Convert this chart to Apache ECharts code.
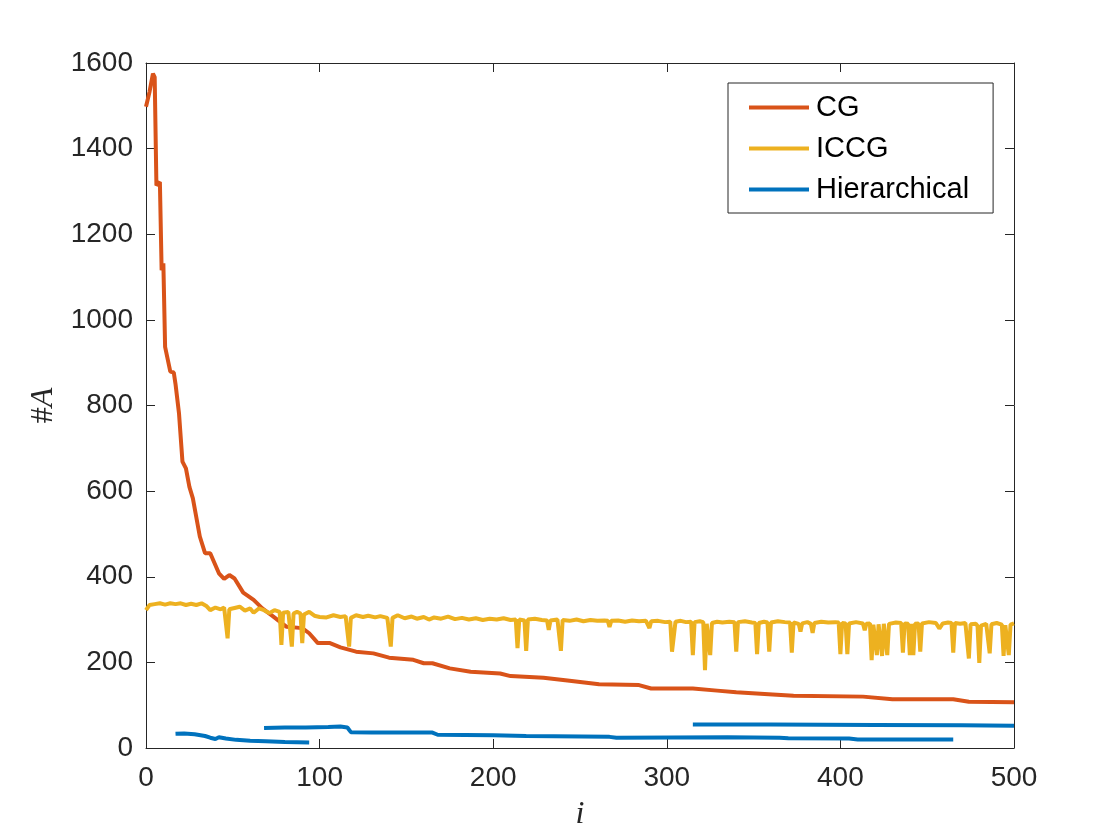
<!DOCTYPE html>
<html>
<head>
<meta charset="utf-8">
<script src="https://cdn.jsdelivr.net/npm/echarts@6/dist/echarts.min.js"></script>
<style>
html, body { margin: 0; padding: 0; background: #fff; }
#chart { width: 1120px; height: 840px; }
</style>
</head>
<body>
<div id="chart"></div>
<script>
// CG
var cgX = [0, 2, 4, 5, 6, 8, 9, 10, 11, 14, 16, 17, 19, 21, 23, 25, 27, 31, 34, 37, 40, 42, 45, 48, 51, 56, 62, 67, 73, 81, 90, 94, 99, 106, 112, 121, 131, 140, 154, 160, 165, 175, 187, 204, 210, 229, 244, 261, 284, 291, 315, 329, 340, 361, 373, 413, 430, 465, 474, 500];
var cgY = [1498, 1532, 1575, 1567, 1314, 1322, 1116, 1132, 937, 879, 877, 850, 782, 669, 653, 610, 583, 494, 455, 455, 427, 408, 395, 404, 396, 363, 346, 326, 308, 283, 280, 268, 245, 245, 235, 225, 221, 211, 206, 198, 198, 186, 178, 174, 168, 164, 157, 149, 147, 139, 139, 134, 130, 125, 122, 120, 114, 114, 108, 107];

// ICCG
var iccgX = [0, 2, 5, 8, 11, 14, 17, 20, 23, 26, 29, 32, 35, 37, 40, 43, 45, 46, 47, 48, 51, 54, 57, 60, 62, 65, 68, 71, 74, 77, 78, 79, 82, 83, 84, 85, 87, 89, 90, 91, 94, 97,
  100, 104, 108, 112, 115, 116, 117, 118, 121, 125, 128, 132, 135, 139, 140, 141, 142, 145, 149, 153, 156, 160, 163, 166, 170, 174, 178, 182, 186, 190, 194, 198,
  202, 206, 210, 213, 214, 215, 218, 219, 220, 224, 228, 231, 232, 233, 237, 238, 239, 240, 244, 248, 252, 256, 260, 264, 266, 267, 268, 272, 276, 280, 284, 288, 289, 290, 291, 295, 299,
  302, 303, 305, 308, 311, 314, 315, 316, 319, 321, 322, 323, 324, 325, 326, 329, 332, 336, 339, 340, 341, 345, 349, 351, 352, 353, 356, 358, 359, 360, 364, 368, 371, 372, 373, 376, 377, 378, 381, 383, 384, 385, 389, 393, 397, 399,
  400, 401, 403, 404, 405, 409, 413, 414, 415, 417, 418, 419, 420, 421, 422, 423, 424, 425, 426, 427, 428, 432, 435, 436, 437, 439, 440, 441, 442, 443, 445, 446, 447, 451, 455, 457, 459, 462, 464, 465, 466, 469, 472, 473, 474, 475, 478, 479, 480, 481, 484, 486, 487, 490, 493, 494, 495, 496, 497, 498, 500];
var iccgY = [322, 334, 336, 338, 335, 338, 336, 338, 334, 337, 334, 338, 331, 322, 328, 324, 328, 326, 256, 324, 327, 330, 321, 326, 316, 326, 322, 315, 322, 318, 241, 316, 318, 314, 237, 314, 318, 314, 245, 312, 318, 309,
  306, 305, 310, 306, 308, 304, 237, 304, 310, 306, 309, 305, 308, 304, 306, 237, 304, 310, 303, 307, 302, 306, 300, 305, 302, 307, 301, 304, 300, 303, 299, 302,
  300, 303, 299, 300, 233, 300, 298, 227, 300, 302, 299, 298, 276, 298, 300, 299, 227, 299, 297, 300, 296, 299, 297, 298, 297, 283, 297, 298, 295, 298, 296, 297, 296, 280, 296, 297, 294,
  295, 225, 295, 297, 294, 295, 217, 294, 296, 294, 182, 290, 292, 217, 292, 295, 293, 295, 294, 225, 294, 296, 293, 292, 219, 292, 295, 293, 225, 293, 296, 294, 293, 223, 293, 290, 272, 291, 294, 290, 269, 292, 295, 293, 294, 293,
  219, 292, 291, 219, 291, 294, 291, 275, 290, 291, 205, 288, 290, 217, 289, 288, 215, 290, 289, 217, 290, 293, 292, 223, 291, 290, 217, 290, 217, 290, 291, 225, 291, 294, 292, 279, 291, 293, 292, 223, 292, 290, 292, 288, 209, 289, 290, 285, 199, 286, 290, 221, 289, 292, 288, 215, 287, 290, 217, 288, 291];

// Hierarchical (three separate runs)
var hier1X = [17, 22, 28, 34, 37, 40, 42, 46, 52, 60, 69, 80, 94];
var hier1Y = [33, 34, 32, 28, 24, 21, 25, 22, 19, 17, 16, 14, 13];
var hier2X = [68, 80, 92, 105, 112, 116, 118, 130, 150, 165, 168, 200, 219, 267, 271, 335, 365, 370, 405, 410, 465];
var hier2Y = [47, 48, 48, 49, 50, 48, 37, 36, 36, 36, 31, 30, 28, 26, 24, 25, 24, 23, 22, 20, 20];
var hier3X = [315, 360, 420, 470, 500];
var hier3Y = [55, 55, 54, 53, 52];

var names = ['CG', 'ICCG', 'Hierarchical'];
var colors = ['#D95319', '#EDB120', '#0072BD'];

function zip(xs, ys) {
  var out = [];
  for (var k = 0; k < xs.length; k++) out.push([xs[k], ys[k]]);
  return out;
}

function lineSeries(name, color, xs, ys) {
  return {
    name: name,
    type: 'line',
    data: zip(xs, ys),
    showSymbol: false,
    symbol: 'none',
    lineStyle: { color: color, width: 4 },
    itemStyle: { color: color },
    emphasis: { disabled: true }
  };
}

var axisCol = '#262626';
var tickFont = { color: axisCol, fontSize: 28, fontFamily: 'Liberation Sans, Arial, sans-serif', formatter: function (v) { return String(v); } };

function boxAxis(extra) {
  return Object.assign({
    axisLine: { show: true, onZero: false, lineStyle: { color: axisCol, width: 1 } },
    axisTick: { show: true, inside: true, length: 9, lineStyle: { color: axisCol } },
    splitLine: { show: false }
  }, extra);
}

var myChart = echarts.init(document.getElementById('chart'));
var option = {
  animation: false,
  backgroundColor: '#fff',
  grid: { left: 146, right: 106, top: 63, bottom: 92, containLabel: false },
  legend: {
    data: names,
    orient: 'vertical',
    left: 728,
    top: 83,
    padding: [10, 24, 9, 21],
    itemGap: 12,
    itemWidth: 60,
    itemHeight: 4,
    icon: 'rect',
    borderColor: axisCol,
    borderWidth: 1,
    backgroundColor: '#fff',
    textStyle: { color: '#000', fontSize: 29, fontFamily: 'Liberation Sans, Arial, sans-serif', padding: [0, 0, 0, 2] }
  },
  xAxis: [
    boxAxis({
      type: 'value', min: 0, max: 500, interval: 100, position: 'bottom',
      name: 'i', nameLocation: 'middle', nameGap: 51,
      nameTextStyle: { fontFamily: 'Liberation Serif, DejaVu Serif, serif', fontStyle: 'italic', fontSize: 32, color: axisCol },
      axisLabel: Object.assign({ margin: 16 }, tickFont)
    }),
    boxAxis({
      type: 'value', min: 0, max: 500, interval: 100, position: 'top',
      axisLabel: { show: false }
    })
  ],
  yAxis: [
    boxAxis({
      type: 'value', min: 0, max: 1600, interval: 200, position: 'left',
      name: '{h|#}{a|A}', nameLocation: 'middle', nameGap: 82,
      nameTextStyle: {
        rich: {
          h: { fontFamily: 'Liberation Serif, DejaVu Serif, serif', fontSize: 32, color: axisCol },
          a: { fontFamily: 'Liberation Serif, DejaVu Serif, serif', fontStyle: 'italic', fontSize: 32, color: axisCol }
        }
      },
      axisLabel: Object.assign({ margin: 13 }, tickFont)
    }),
    boxAxis({
      type: 'value', min: 0, max: 1600, interval: 200, position: 'right',
      axisLabel: { show: false }
    })
  ],
  series: [
    lineSeries(names[0], colors[0], cgX, cgY),
    lineSeries(names[1], colors[1], iccgX, iccgY),
    lineSeries(names[2], colors[2], hier1X, hier1Y),
    lineSeries(names[2], colors[2], hier2X, hier2Y),
    lineSeries(names[2], colors[2], hier3X, hier3Y)
  ]
};

myChart.setOption(option);
</script>
</body>
</html>
